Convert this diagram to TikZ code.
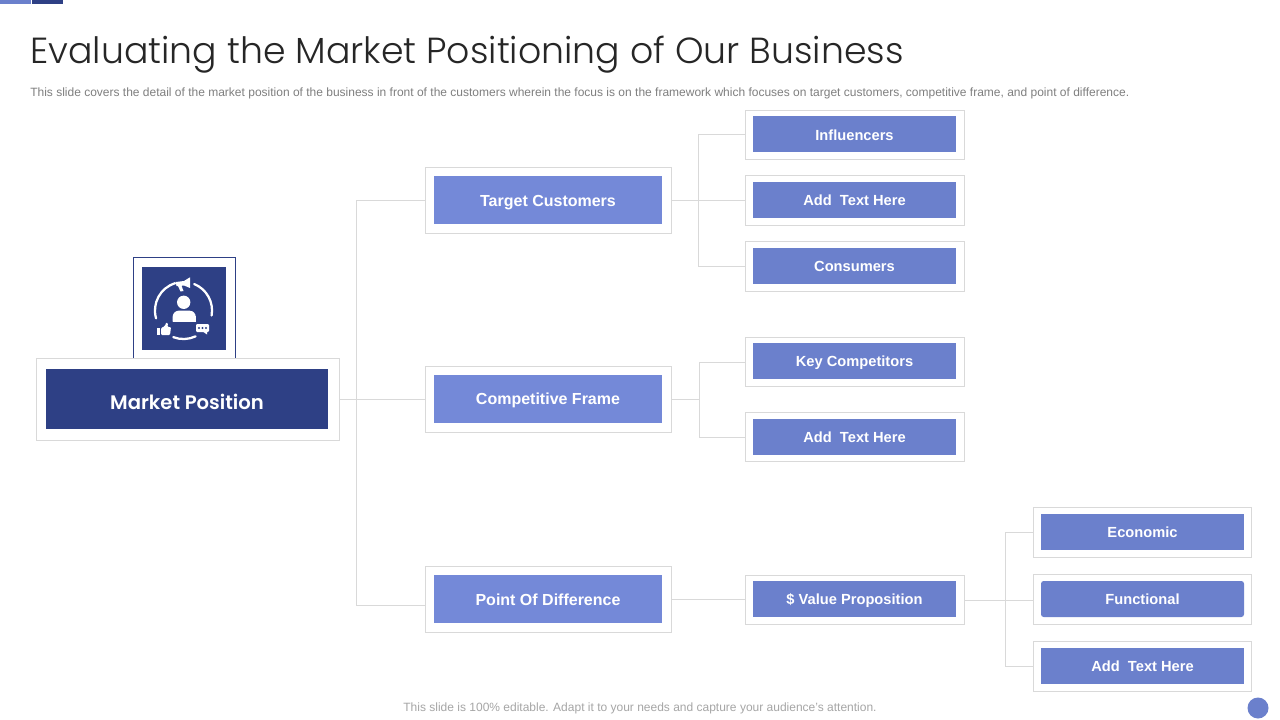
\documentclass[tikz,border=0pt]{standalone}
\usepackage{fontspec}
\setmainfont{Liberation Sans}
\newfontfamily\titlefont{Poppins Light}
\newfontfamily\headfont{Poppins SemiBold}
\usetikzlibrary{calc}
\definecolor{navy}{HTML}{2E4085}
\definecolor{midblue}{HTML}{6B80CC}
\definecolor{softblue}{HTML}{7489D8}
\definecolor{linegray}{HTML}{D9D9D9}
\definecolor{titlegray}{HTML}{262626}
\definecolor{subgray}{HTML}{7F7F7F}
\definecolor{footgray}{HTML}{A6A6A6}
\tikzset{
  x=0.75pt,y=-0.75pt,
  frame/.style={draw=linegray,line width=0.75pt,fill=white,inner sep=0pt,outer sep=0pt},
  fillbox/.style={inner sep=0pt,outer sep=0pt,text=white},
  link/.style={draw=linegray,line width=0.75pt},
  iconline/.style={draw=white,line width=1.7pt,line cap=round},
}
% frame: name, x1, y1, x2, y2
\newcommand{\boxat}[5]{\node[frame,minimum width=#4*0.75pt-#2*0.75pt,minimum height=#5*0.75pt-#3*0.75pt] (#1) at ({(#2+#4)/2},{(#3+#5)/2}) {};}
% filled: name, x1, y1, x2, y2, colour, size, text
\newcommand{\fillat}[8]{\node[fillbox,fill=#6,minimum width=#4*0.75pt-#2*0.75pt,minimum height=#5*0.75pt-#3*0.75pt,text height=0.7*#7,text depth=0pt,font=\fontsize{#7}{#7}\selectfont\bfseries] (#1) at ({(#2+#4)/2},{(#3+#5)/2}) {#8};}
\begin{document}
\begin{tikzpicture}
\useasboundingbox (0,0) rectangle (1280,720);
\fill[white] (0,0) rectangle (1280,720);
% top bars
\fill[midblue] (0,0) rectangle (31,4);
\fill[navy] (32,0) rectangle (63,4);
% header
\node[anchor=base west,inner sep=0pt,text=titlegray,font=\titlefont\fontsize{27.2pt}{30pt}\selectfont] (title) at (30,64) {Evaluating the Market Positioning of Our Business};
\node[anchor=base west,inner sep=0pt,text=subgray,font=\fontsize{9pt}{11pt}\selectfont] (sub) at (30,97) {This slide covers the detail of the market position of the business in front of the customers wherein the focus is on the framework which focuses on target customers, competitive frame, and point of difference.};
\node[anchor=base,inner sep=0pt,text=footgray,font=\fontsize{9pt}{11pt}\selectfont] (foot) at (640,711.5) {This slide is 100\% editable. Adapt it to your needs and capture your audience’s attention.};
\node[circle,fill=midblue,minimum size=15.75pt,inner sep=0pt] (dot) at (1258,708) {};

% frames
\boxat{market}{36.5}{358.5}{339.5}{440.5}
\boxat{target}{425.5}{167.5}{671.5}{233.5}
\boxat{compet}{425.5}{366.5}{671.5}{432.5}
\boxat{point}{425.5}{566.5}{671.5}{632.5}
\boxat{influ}{745.5}{110.5}{964.5}{159.5}
\boxat{addA}{745.5}{175.5}{964.5}{225.5}
\boxat{consu}{745.5}{241.5}{964.5}{291.5}
\boxat{keyc}{745.5}{337.5}{964.5}{386.5}
\boxat{addB}{745.5}{412.5}{964.5}{461.5}
\boxat{value}{745.5}{575.5}{964.5}{624.5}
\boxat{econ}{1033.5}{507.5}{1251.5}{557.5}
\boxat{func}{1033.5}{574.5}{1251.5}{624.5}
\boxat{addC}{1033.5}{641.5}{1251.5}{691.5}

% connector junctions
\coordinate (busM) at (356.5,399.5);
\coordinate (pointIn) at (425.5,605);
\coordinate (busT) at (698.5,200.5);
\coordinate (busC) at (699.5,399.5);
\coordinate (addBIn) at (745.5,437.5);
\coordinate (busV) at (1005.5,599.5);
\draw[link] (market.east) -- (busM);
\draw[link] (busM) |- (target.west);
\draw[link] (busM) -- (compet.west);
\draw[link] (busM) |- (pointIn);
\draw[link] (target.east) -- (addA.west);
\draw[link] (busT) |- (influ.west);
\draw[link] (busT) |- (consu.west);
\draw[link] (compet.east) -- (busC);
\draw[link] (busC) |- (keyc.west);
\draw[link] (busC) |- (addBIn);
\draw[link] (point.east) -- (point.east -| value.west);
\draw[link] (value.east) -- (value.east -| func.west);
\draw[link] (busV |- value.east) |- (econ.west);
\draw[link] (busV |- value.east) |- (addC.west);

% inner fills
\fillat{marketF}{46}{369}{328}{429}{navy}{16pt}{\raisebox{-2.25pt}{\mdseries\headfont\fontsize{14.7pt}{15pt}\selectfont Market Position}}
\fillat{targetF}{434}{176}{662}{224}{softblue}{12pt}{\raisebox{-0.75pt}{Target Customers}}
\fillat{competF}{434}{375}{662}{423}{softblue}{12pt}{Competitive Frame}
\fillat{pointF}{434}{575}{662}{623}{softblue}{12pt}{\raisebox{-0.75pt}{Point Of Difference}}
\fillat{influF}{753}{116}{956}{152}{midblue}{11pt}{\raisebox{-0.75pt}{Influencers}}
\fillat{addAF}{753}{182}{956}{218}{midblue}{11pt}{Add \ Text Here}
\fillat{consuF}{753}{248}{956}{284}{midblue}{11pt}{Consumers}
\fillat{keycF}{753}{343}{956}{379}{midblue}{11pt}{Key Competitors}
\fillat{addBF}{753}{419}{956}{455}{midblue}{11pt}{Add \ Text Here}
\fillat{valueF}{753}{581}{956}{617}{midblue}{11pt}{\$ Value Proposition}
\fillat{econF}{1041}{514}{1244}{550}{midblue}{11pt}{Economic}
\node[fillbox,fill=midblue,rounded corners=2pt,minimum width=152.25pt,minimum height=27pt,text height=7.7pt,text depth=0pt,font=\fontsize{11pt}{11pt}\selectfont\bfseries] (funcF) at (1142.5,599) {Functional};
\fillat{addCF}{1041}{648}{1244}{684}{midblue}{11pt}{Add \ Text Here}

% icon frame (open at the bottom)
\draw[navy,line width=0.75pt] (133.5,358) -- (133.5,257.5) -- (235.5,257.5) -- (235.5,358);
\fill[navy] (142,267) rectangle (226,350);
% circular arrows
\draw[iconline] (183.5,310.5) ++(107:21.4pt) arc[start angle=107,end angle=196,radius=21.4pt];
\draw[iconline] (183.5,310.5) ++(68:21.4pt) arc[start angle=68,end angle=-10,radius=21.4pt];
\draw[iconline] (183.5,310.5) ++(249:21.4pt) arc[start angle=249,end angle=295,radius=21.4pt];
% person
\fill[white] (183.7,302.3) circle[radius=5pt];
\fill[white,rounded corners=4.5pt] (172.7,321.5) -- (172.7,310.7) -- (195.7,310.7) -- (195.7,321.5) [sharp corners] -- cycle;
\fill[white] (172.7,316) rectangle (195.7,321.5);
% megaphone
\fill[white] (175.7,282) -- (184,281) -- (190,277.3) -- (190,288) -- (184,285.5) -- (181.5,285.8) -- (183.5,291) -- (180.5,291.5) -- (178,286) -- (176.5,286) -- cycle;
% thumb
\fill[white] (156.8,328) rectangle (160,335);
\fill[white,rounded corners=0.8pt] (161,328) -- (165,326) -- (166,322.5) -- (168,323) -- (167.5,327) -- (171,327) -- (170,335) -- (161,335) -- cycle;
% chat
\fill[white,rounded corners=0.8pt] (196,324) rectangle (209,332);
\fill[white] (202,331) -- (207,331) -- (207,334.5) -- cycle;
\fill[navy] (199,328) circle[radius=0.8pt] (202.5,328) circle[radius=0.8pt] (206,328) circle[radius=0.8pt];
\end{tikzpicture}
\end{document}
